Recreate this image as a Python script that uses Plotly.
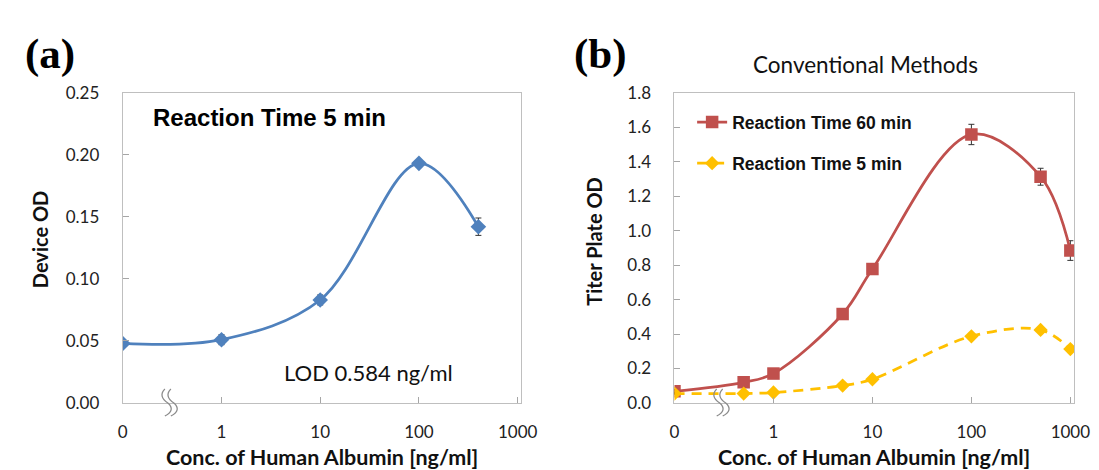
import plotly.graph_objects as go

# ---------------- data ----------------
conc_a = [0, 1, 10, 100, 400]
od_a = [0.048, 0.051, 0.083, 0.193, 0.142]
err_a = [0.002, 0.004, 0.004, 0.003, 0.007]

conc_b = [0, 0.5, 1, 5, 10, 100, 500, 1000]
od_b60 = [0.068, 0.12, 0.171, 0.516, 0.777, 1.557, 1.312, 0.884]
err_b60 = [0.01, 0.01, 0.01, 0.01, 0.01, 0.059, 0.049, 0.057]
od_b5 = [0.055, 0.055, 0.061, 0.101, 0.138, 0.387, 0.424, 0.313]
err_b5 = [0.004, 0.004, 0.004, 0.004, 0.005, 0.008, 0.008, 0.008]

tick_vals = [0, 1, 10, 100, 1000]
tick_text = ["0", "1", "10", "100", "1000"]
y_ticks_a = [0.0, 0.05, 0.10, 0.15, 0.20, 0.25]
y_ticks_b = [0.0, 0.2, 0.4, 0.6, 0.8, 1.0, 1.2, 1.4, 1.6, 1.8]

ZERO_POS = 0.1   # where "0" sits on the broken log axis
BREAK_POS = 0.3  # where the axis-break mark is drawn


def pos(values):
    return [ZERO_POS if v == 0 else v for v in values]


BLUE = "#4F81BD"
RED = "#C0504D"
GOLD = "#FFC000"
TICKF = "Lato, Liberation Sans, sans-serif"
BOLDF = "Liberation Sans, Arial, sans-serif"
SERIF = "Liberation Serif, Times New Roman, serif"

W, H = 1099, 470


def px_x(p):
    return p / W


def px_y(p):
    return 1 - p / H


fig = go.Figure()

fig.add_trace(go.Scatter(
    x=pos(conc_a), y=od_a, mode="lines+markers", xaxis="x", yaxis="y",
    line=dict(color=BLUE, width=2.75, shape="spline", smoothing=1.0),
    marker=dict(symbol="diamond", size=12, color=BLUE),
    error_y=dict(type="data", array=err_a, color="#333333", thickness=1, width=3),
    showlegend=False, name="Reaction Time 5 min"))

fig.add_trace(go.Scatter(
    x=pos(conc_b), y=od_b60, mode="lines+markers", xaxis="x2", yaxis="y2",
    line=dict(color=RED, width=2.75, shape="spline", smoothing=1.0),
    marker=dict(symbol="square", size=12.5, color=RED),
    error_y=dict(type="data", array=err_b60, color="#333333", thickness=1, width=3),
    name="<b>Reaction Time 60 min</b>", legend="legend"))

fig.add_trace(go.Scatter(
    x=pos(conc_b), y=od_b5, mode="lines+markers", xaxis="x2", yaxis="y2",
    line=dict(color=GOLD, width=2.75, shape="spline", smoothing=1.0, dash="10px,7px"),
    marker=dict(symbol="diamond", size=11, color=GOLD),
    error_y=dict(type="data", array=err_b5, color="#333333", thickness=1, width=3),
    name="<b>Reaction Time 5 min</b>", legend="legend2"))

xcommon = dict(type="log", tickvals=pos(tick_vals), ticktext=tick_text,
               ticks="inside", ticklen=6, tickcolor="#a6a6a6", ticklabelstandoff=14,
               showline=True, linecolor="#bfbfbf", linewidth=1, mirror=True,
               showgrid=False, zeroline=False,
               tickfont=dict(family=TICKF, size=17, color="#222222"))
ycommon = dict(ticks="inside", ticklen=6, tickcolor="#a6a6a6", ticklabelstandoff=19,
               showline=True, linecolor="#bfbfbf", linewidth=1, mirror=True,
               showgrid=False, zeroline=False,
               tickfont=dict(family=TICKF, size=17, color="#222222"))

YDOM = [px_y(402), px_y(77)]
legend_common = dict(xanchor="left", yanchor="middle", bgcolor="rgba(0,0,0,0)",
                     font=dict(family=BOLDF, size=17.5, color="#111111"))

fig.update_layout(
    width=W, height=H,
    margin=dict(l=0, r=0, t=0, b=0),
    paper_bgcolor="white", plot_bgcolor="white",
    xaxis=dict(domain=[px_x(112), px_x(518)], anchor="y", range=[-1, 3.03], **xcommon),
    yaxis=dict(domain=YDOM, anchor="x", range=[0, 0.25],
               tickvals=y_ticks_a, tickformat=".2f", **ycommon),
    xaxis2=dict(domain=[px_x(675), px_x(1083)], anchor="y2", range=[-1, 3.04], **xcommon),
    yaxis2=dict(domain=YDOM, anchor="x2", range=[0, 1.8],
                tickvals=y_ticks_b, tickformat=".1f", **ycommon),
    legend=dict(x=px_x(693), y=px_y(108), **legend_common),
    legend2=dict(x=px_x(693), y=px_y(151), **legend_common),
)

ann = []
ann.append(dict(text="<b>(a)</b>", x=px_x(10), y=px_y(37), xanchor="left", yanchor="middle",
                font=dict(family=SERIF, size=43, color="black")))
ann.append(dict(text="<b>(b)</b>", x=px_x(570), y=px_y(37), xanchor="left", yanchor="middle",
                font=dict(family=SERIF, size=43, color="black")))
ann.append(dict(text="<b>Reaction Time 5 min</b>", x=px_x(141), y=px_y(103), xanchor="left",
                yanchor="middle", font=dict(family=BOLDF, size=24, color="black")))
ann.append(dict(text="LOD 0.584 ng/ml", x=px_x(275), y=px_y(370), xanchor="left",
                yanchor="middle", font=dict(family=TICKF, size=22, color="#111111")))
ann.append(dict(text="Conventional Methods", x=px_x(870), y=px_y(48), xanchor="center",
                yanchor="middle", font=dict(family=TICKF, size=22.5, color="#111111")))
for cx in (315, 879):
    ann.append(dict(text="<b>Conc. of Human Albumin [ng/ml]</b>", x=px_x(cx), y=px_y(458),
                    xanchor="center", yanchor="middle",
                    font=dict(family=TICKF, size=21.5, color="#111111")))
ann.append(dict(text="<b>Device OD</b>", x=px_x(27), y=px_y(230), xanchor="center",
                yanchor="middle", textangle=-90, font=dict(family=TICKF, size=20, color="#111111")))
ann.append(dict(text="<b>Titer Plate OD</b>", x=px_x(592), y=px_y(233), xanchor="center",
                yanchor="middle", textangle=-90, font=dict(family=TICKF, size=20, color="#111111")))
for a in ann:
    a.update(xref="paper", yref="paper", showarrow=False)
fig.update_layout(annotations=ann)

# axis-break squiggles (two parallel S-curves crossing the x axis)
squig = ("M -5 14 Q -12 7 -2 0 Q 6 -7 -5 -13 "
         "M 1 14 Q -6 7 4 0 Q 12 -7 1 -13")
for xr in ("x", "x2"):
    fig.add_shape(type="path", xref=xr, yref="paper", xsizemode="pixel", ysizemode="pixel",
                  xanchor=BREAK_POS, yanchor=YDOM[0], path=squig,
                  line=dict(color="#8c8c8c", width=1.3))

fig.write_html("out.html")
